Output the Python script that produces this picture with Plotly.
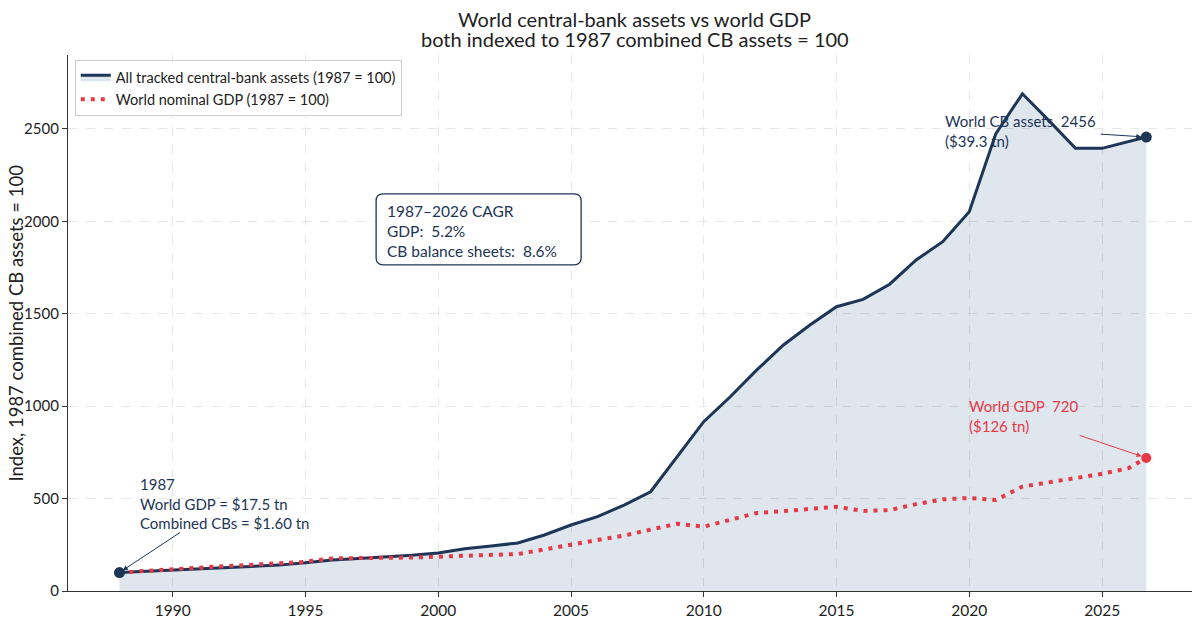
import plotly.graph_objects as go

# data year Y is stamped at the end of that year; the 2026 reading is part-year
years = list(range(1987, 2027))
period_end = [f"{y}-12-31" for y in range(1987, 2026)] + ["2026-08-31"]

cb_index = [
    100, 107, 113, 120, 127, 133, 140, 153, 168, 176,
    183, 193, 206, 229, 243, 260, 303, 357, 402, 465,
    537, 727, 916, 1051, 1196, 1331, 1439, 1538, 1578, 1660,
    1791, 1890, 2052, 2475, 2690, 2545, 2395, 2395, 2432, 2456,
]
gdp_index = [
    100, 110, 116, 128, 135, 142, 148, 158, 176, 180,
    180, 181, 186, 192, 193, 200, 225, 253, 276, 300,
    334, 364, 348, 384, 422, 432, 443, 456, 433, 438,
    470, 496, 503, 492, 565, 588, 608, 634, 665, 720,
]

NAVY = "#1d3557"
RED = "#e63946"
FONT = "Lato"

fig = go.Figure()

fig.add_trace(
    go.Scatter(
        x=period_end,
        y=cb_index,
        mode="lines",
        name="All tracked central-bank assets (1987 = 100)",
        line=dict(color=NAVY, width=3),
        fill="tozeroy",
        fillcolor="rgba(26,76,126,0.14)",
    )
)
fig.add_trace(
    go.Scatter(
        x=period_end,
        y=gdp_index,
        mode="lines",
        name="World nominal GDP (1987 = 100)",
        line=dict(color=RED, width=4, dash="4px,6px"),
    )
)
# start / end markers
fig.add_trace(
    go.Scatter(
        x=[period_end[0], period_end[-1]],
        y=[cb_index[0], cb_index[-1]],
        mode="markers",
        marker=dict(color=NAVY, size=11),
        showlegend=False,
    )
)
fig.add_trace(
    go.Scatter(
        x=[period_end[-1]],
        y=[gdp_index[-1]],
        mode="markers",
        marker=dict(color=RED, size=10),
        showlegend=False,
    )
)

# arrows (text is placed separately)
arrow = dict(text="", showarrow=True, arrowhead=2, arrowsize=1, arrowwidth=1)
fig.add_annotation(x=period_end[0], y=cb_index[0], ax=62, ay=-41,
                   arrowcolor=NAVY, standoff=4, **arrow)
fig.add_annotation(x=period_end[-1], y=cb_index[-1], ax=-47, ay=-3,
                   arrowcolor=NAVY, standoff=5, **arrow)
fig.add_annotation(x=period_end[-1], y=gdp_index[-1], ax=-68, ay=-23,
                   arrowcolor=RED, standoff=5, **arrow)

text_style = dict(showarrow=False, xanchor="left", yanchor="top", align="left")
fig.add_annotation(
    x="1988-09-08", y=640,
    text="1987<br>World GDP = $17.5 tn<br>Combined CBs = $1.60 tn",
    font=dict(family=FONT, size=15, color=NAVY), **text_style,
)
fig.add_annotation(
    x="2019-01-10", y=2600,
    text=f"World CB assets  {cb_index[-1]}<br>($39.3 tn)",
    font=dict(family=FONT, size=15, color=NAVY), **text_style,
)
fig.add_annotation(
    x="2019-11-25", y=1058,
    text=f"World GDP  {gdp_index[-1]}<br>($126 tn)",
    font=dict(family=FONT, size=15, color=RED), **text_style,
)

# CAGR box with rounded corners
n_years = years[-1] - years[0]
gdp_cagr = (gdp_index[-1] / gdp_index[0]) ** (1 / n_years) - 1
cb_cagr = (cb_index[-1] / cb_index[0]) ** (1 / n_years) - 1
w, h, r = 205, 71, 7
fig.add_shape(
    type="path",
    xref="x", yref="y",
    xsizemode="pixel", ysizemode="pixel",
    xanchor="1997-08-30", yanchor=1765,
    path=(f"M {r},0 L {w - r},0 Q {w},0 {w},{r} L {w},{h - r} Q {w},{h} {w - r},{h} "
          f"L {r},{h} Q 0,{h} 0,{h - r} L 0,{r} Q 0,0 {r},0 Z"),
    line=dict(color=NAVY, width=1.3),
    fillcolor="white",
    layer="above",
)
fig.add_annotation(
    x="1998-01-05", y=2118,
    text=(f"{years[0]}–{years[-1]} CAGR<br>GDP:  {gdp_cagr * 100:.1f}%"
          f"<br>CB balance sheets:  {cb_cagr * 100:.1f}%"),
    font=dict(family=FONT, size=15.5, color=NAVY), **text_style,
)

# two-line title
title_style = dict(xref="paper", yref="paper", x=0.503, xanchor="center",
                   yanchor="middle", showarrow=False,
                   font=dict(family=FONT, size=20, color="#222"))
fig.add_annotation(y=1.0680, text="World central-bank assets vs world GDP", **title_style)
fig.add_annotation(y=1.0305, text="both indexed to 1987 combined CB assets = 100", **title_style)

# y-axis title placed by hand so it clears the tick labels
fig.add_annotation(
    xref="paper", yref="paper", x=-0.0465, y=0.5,
    xanchor="center", yanchor="middle", textangle=-90, showarrow=False,
    text="Index, 1987 combined CB assets = 100",
    font=dict(family=FONT, size=18.5, color="#222"),
)

# the page body adds an 8px margin, so the figure is sized to fit the window
fig.update_layout(
    width=1192,
    height=614,
    margin=dict(l=60, r=5, t=47, b=31, autoexpand=False),
    paper_bgcolor="white",
    plot_bgcolor="white",
    font=dict(family=FONT, size=14, color="#222"),
    legend=dict(
        x=0.006, y=0.99, xanchor="left", yanchor="top",
        bgcolor="white", bordercolor="#cccccc", borderwidth=1,
        font=dict(family=FONT, size=14.5, color="#222"),
        tracegroupgap=2,
    ),
    showlegend=True,
)
fig.update_xaxes(
    type="date",
    range=["1986-01-22", "2028-07-01"],
    tick0="1990-01-01", dtick="M60", tickformat="%Y",
    showline=True, linecolor="#333", linewidth=1.2,
    ticks="outside", ticklen=5, tickcolor="#333",
    showgrid=True, gridcolor="#e6e6e6", griddash="dash", gridwidth=1,
    tickfont=dict(family=FONT, size=15.5, color="#222"),
    zeroline=False,
    automargin=False,
)
fig.update_yaxes(
    range=[0, 2900],
    tick0=0, dtick=500,
    showline=True, linecolor="#333", linewidth=1.2,
    ticks="outside", ticklen=5, tickcolor="#333",
    showgrid=True, gridcolor="#e6e6e6", griddash="dash", gridwidth=1,
    tickfont=dict(family=FONT, size=15, color="#222"),
    zeroline=False,
    automargin=False,
)

fig.write_html("out.html")
